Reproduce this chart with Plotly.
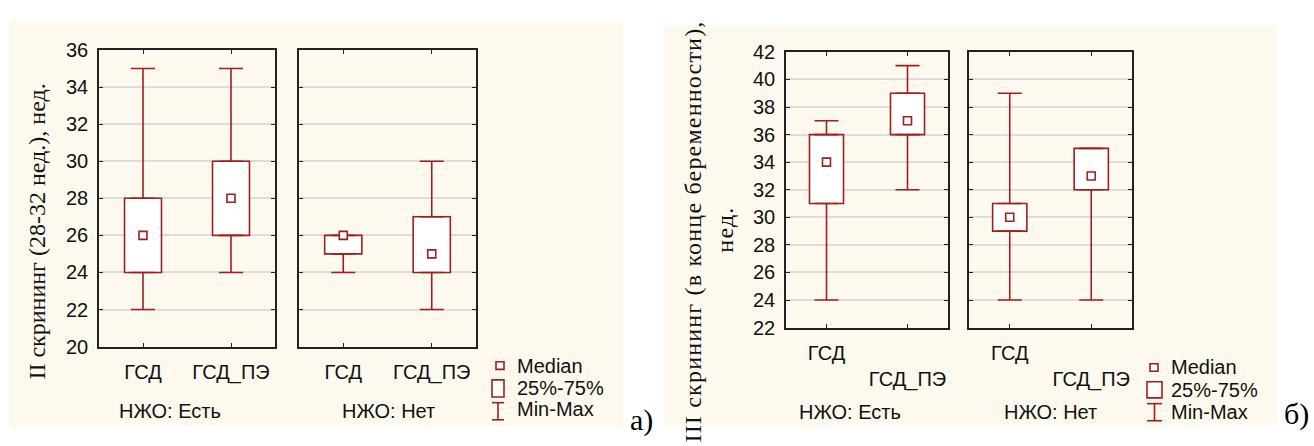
import plotly.graph_objects as go

W, H = 1314, 446

categories = ["ГСД", "ГСД_ПЭ"]

# Panel а: II скрининг (28-32 нед.), нед.
a_yes_min = [22, 24]
a_yes_q1 = [24, 26]
a_yes_med = [26, 28]
a_yes_q3 = [28, 30]
a_yes_max = [35, 35]

a_no_min = [24, 22]
a_no_q1 = [25, 24]
a_no_med = [26, 25]
a_no_q3 = [26, 27]
a_no_max = [26, 30]

# Panel б: III скрининг (в конце беременности), нед.
b_yes_min = [24, 32]
b_yes_q1 = [31, 36]
b_yes_med = [34, 37]
b_yes_q3 = [36, 39]
b_yes_max = [37, 41]

b_no_min = [24, 24]
b_no_q1 = [29, 32]
b_no_med = [30, 33]
b_no_q3 = [31, 35]
b_no_max = [39, 35]

group_labels = ["НЖО: Есть", "НЖО: Нет", "НЖО: Есть", "НЖО: Нет"]
legend_labels = ["Median", "25%-75%", "Min-Max"]
a_ytitle = "II скрининг (28-32 нед.), нед."
b_ytitle1 = "III скрининг (в конце беременности),"
b_ytitle2 = "нед."

RED = "#9E1F1F"
BEIGE = "#FEF9EE"
GRID = "#DCDCDC"
TXT = "#111111"
SANS = "Liberation Sans, Arial, sans-serif"
SERIF = "Liberation Serif, Times New Roman, serif"
FS = 20

def px(x):
    return x / W

def py(y):
    return 1 - y / H

fig = go.Figure()

panels = [
    (a_yes_min, a_yes_q1, a_yes_med, a_yes_q3, a_yes_max, (99, 275), (41, 353), (20, 36), False),
    (a_no_min, a_no_q1, a_no_med, a_no_q3, a_no_max, (299, 476), (41, 353), (20, 36), False),
    (b_yes_min, b_yes_q1, b_yes_med, b_yes_q3, b_yes_max, (786, 948), (43, 333), (22, 42), True),
    (b_no_min, b_no_q1, b_no_med, b_no_q3, b_no_max, (969, 1132), (43, 333), (22, 42), True),
]

for i, (mn, q1, med, q3, mx, xd, yd, yr, stagger) in enumerate(panels):
    n = i + 1
    xa = "x" if n == 1 else f"x{n}"
    ya = "y" if n == 1 else f"y{n}"
    fig.add_trace(go.Bar(
        x=categories, base=q1, y=[b - a for a, b in zip(q1, q3)],
        width=0.42, marker=dict(color="white", line=dict(color=RED, width=1.6)),
        xaxis=xa, yaxis=ya, showlegend=False, hoverinfo="skip"))
    fig.add_trace(go.Scatter(
        x=categories, y=q3, mode="markers",
        marker=dict(size=1, color="rgba(0,0,0,0)"),
        error_y=dict(type="data", symmetric=False,
                     array=[b - a for a, b in zip(q3, mx)], arrayminus=[0] * len(q3),
                     color=RED, thickness=1.6, width=12),
        xaxis=xa, yaxis=ya, showlegend=False, hoverinfo="skip"))
    fig.add_trace(go.Scatter(
        x=categories, y=q1, mode="markers",
        marker=dict(size=1, color="rgba(0,0,0,0)"),
        error_y=dict(type="data", symmetric=False,
                     array=[0] * len(q1), arrayminus=[a - b for a, b in zip(q1, mn)],
                     color=RED, thickness=1.6, width=12),
        xaxis=xa, yaxis=ya, showlegend=False, hoverinfo="skip"))
    fig.add_trace(go.Scatter(
        x=categories, y=med, mode="markers",
        marker=dict(symbol="square", size=8, color="white", line=dict(color=RED, width=1.6)),
        xaxis=xa, yaxis=ya, showlegend=False, hoverinfo="skip"))

    ticktext = categories if not stagger else [categories[0], " <br>" + categories[1]]
    fig.layout[f"xaxis{n if n > 1 else ''}"] = dict(
        domain=[px(xd[0]), px(xd[1])], anchor=ya, type="category",
        range=[-0.5, 1.5], tickvals=categories, ticktext=ticktext,
        showline=True, linecolor="#222", linewidth=1.6, mirror="ticks",
        ticks="inside", ticklen=4, tickcolor="#222", tickwidth=1,
        ticklabelstandoff=7,
        showgrid=False, zeroline=False,
        tickfont=dict(family=SANS, size=FS, color=TXT), fixedrange=True)
    fig.layout[f"yaxis{n if n > 1 else ''}"] = dict(
        domain=[py(yd[1]), py(yd[0])], anchor=xa,
        range=list(yr), dtick=2, tick0=yr[0],
        showline=True, linecolor="#222", linewidth=1.6, mirror="ticks",
        ticks="inside", ticklen=4, tickcolor="#222", tickwidth=1,
        ticklabelstandoff=5,
        showgrid=True, gridcolor=GRID, gridwidth=1.5, zeroline=False,
        showticklabels=(n in (1, 3)),
        tickfont=dict(family=SANS, size=FS, color=TXT), fixedrange=True)

shapes = [
    dict(type="rect", xref="paper", yref="paper", x0=px(9), x1=px(623), y0=py(437), y1=py(11),
         fillcolor=BEIGE, line=dict(width=0), layer="below"),
    dict(type="rect", xref="paper", yref="paper", x0=px(664), x1=px(1277), y0=py(437), y1=py(15),
         fillcolor=BEIGE, line=dict(width=0), layer="below"),
]

annotations = []
for lbl, cx, cy in zip(group_labels, [170, 388, 850, 1050], [421, 421, 422, 422]):
    annotations.append(dict(text=lbl, x=px(cx), y=py(cy), xref="paper", yref="paper",
                            showarrow=False, xanchor="center", yanchor="middle",
                            font=dict(family=SANS, size=FS, color=TXT)))

annotations.append(dict(text=a_ytitle, x=px(37), y=py(232), xref="paper", yref="paper",
                        showarrow=False, textangle=-90, xanchor="center", yanchor="middle",
                        font=dict(family=SERIF, size=24, color=TXT)))
annotations.append(dict(text='<span style="letter-spacing:1.2px">' + b_ytitle1 + '</span>',
                        x=px(693), y=py(232), xref="paper", yref="paper",
                        showarrow=False, textangle=-90, xanchor="center", yanchor="middle",
                        font=dict(family=SERIF, size=24, color=TXT)))
annotations.append(dict(text='<span style="letter-spacing:1.2px">' + b_ytitle2 + '</span>',
                        x=px(725), y=py(230), xref="paper", yref="paper",
                        showarrow=False, textangle=-90, xanchor="center", yanchor="middle",
                        font=dict(family=SERIF, size=24, color=TXT)))

annotations.append(dict(text="а)", x=px(641), y=py(430), xref="paper", yref="paper",
                        showarrow=False, xanchor="center", yanchor="middle",
                        font=dict(family=SERIF, size=30, color="black")))
annotations.append(dict(text="б)", x=px(1296), y=py(424), xref="paper", yref="paper",
                        showarrow=False, xanchor="center", yanchor="middle",
                        font=dict(family=SERIF, size=30, color="black")))

for (mx_, my_, rx0, rx1, ry, iy, tx, tys) in [
    (500, 373, 492, 504, (388, 406), (412, 430), 515, (373, 397, 419)),
    (1154, 375, 1147, 1162, (390, 407), (413, 431), 1169, (374, 399, 422)),
]:
    shapes.append(dict(type="rect", xref="paper", yref="paper",
                       x0=px(mx_ - 4), x1=px(mx_ + 4), y0=py(my_ + 4), y1=py(my_ - 4),
                       line=dict(color=RED, width=1.6), fillcolor="white"))
    shapes.append(dict(type="rect", xref="paper", yref="paper",
                       x0=px(rx0), x1=px(rx1), y0=py(ry[1]), y1=py(ry[0]),
                       line=dict(color=RED, width=1.6), fillcolor="white"))
    cxm = (rx0 + rx1) / 2
    shapes.append(dict(type="line", xref="paper", yref="paper",
                       x0=px(cxm), x1=px(cxm), y0=py(iy[0]), y1=py(iy[1]),
                       line=dict(color=RED, width=1.6)))
    shapes.append(dict(type="line", xref="paper", yref="paper",
                       x0=px(rx0), x1=px(rx1), y0=py(iy[0]), y1=py(iy[0]),
                       line=dict(color=RED, width=1.6)))
    shapes.append(dict(type="line", xref="paper", yref="paper",
                       x0=px(rx0), x1=px(rx1), y0=py(iy[1]), y1=py(iy[1]),
                       line=dict(color=RED, width=1.6)))
    for lbl, ty in zip(legend_labels, tys):
        annotations.append(dict(text=lbl, x=px(tx), y=py(ty), xref="paper", yref="paper",
                                showarrow=False, xanchor="left", yanchor="middle",
                                font=dict(family=SANS, size=FS, color=TXT)))

fig.update_layout(
    width=W, height=H, margin=dict(l=0, r=0, t=0, b=0),
    paper_bgcolor="white", plot_bgcolor="white",
    shapes=shapes, annotations=annotations,
    barmode="overlay", showlegend=False,
)

fig.write_html("out.html", config={"displayModeBar": False})
